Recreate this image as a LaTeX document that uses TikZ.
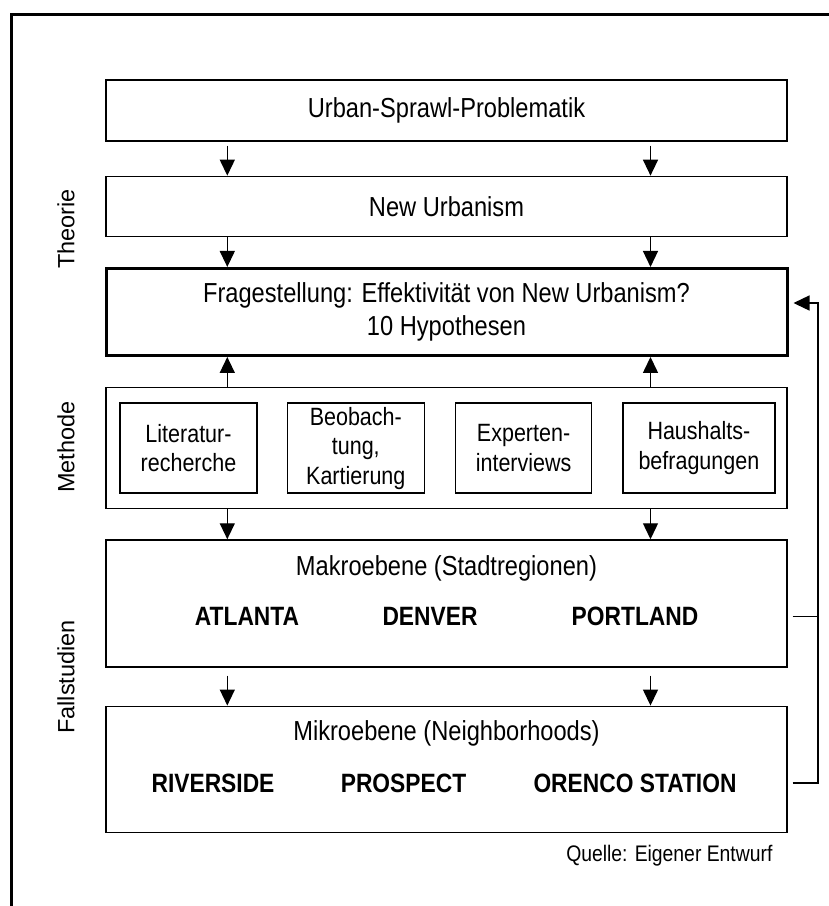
\documentclass[tikz,border=0pt]{standalone}
\usepackage{fontspec}
\setmainfont{Liberation Sans}
\newfontfamily\narrowfont[FakeStretch=0.86]{Liberation Sans}
\usepackage{tikz}
\usetikzlibrary{positioning}
\usetikzlibrary{arrows.meta}
\tikzset{
  myarrow/.style={
    draw=black,
    line width=1.4pt,
    -{Triangle[length=16pt,width=15pt]},
  },
  myline/.style={
    draw=black,
    line width=1.4pt,
  },
  myrectangle/.style={
    draw=black,
    shape=rectangle,
    line width=1.3pt,
    align=center,
    inner sep=0pt,
    minimum width=681pt,
    font=\narrowfont\fontsize{27.5}{33}\selectfont
  },
  mythickrectangle/.style={
    myrectangle,
    line width=3pt,
  },
  mythinsquare/.style={
    draw=black,
    shape=rectangle,
    line width=1.3pt,
    align=center,
    inner sep=0pt,
    minimum height=90pt,
    font=\narrowfont\fontsize{25}{29.5}\selectfont
  },
  mytitle/.style={
    inner sep=0pt,
    font=\narrowfont\fontsize{27.5}{33}\selectfont
  },
  mycity/.style={
    inner sep=0pt,
    font=\narrowfont\bfseries\fontsize{26.5}{32}\selectfont
  },
  mylabel/.style={
    rotate=90,
    inner sep=0pt,
    font=\fontsize{23.5}{28}\selectfont
  },
}

\begin{document}
\begin{tikzpicture}[auto, x=1pt, y=-1pt]
    \useasboundingbox (0,0) rectangle (829,906);
    \draw[line width=3pt] (11.5,925) |- (845,14);

    \node[myrectangle, minimum height=61pt] (urban) at (446.5,110.5) {Urban-Sprawl-Problematik};
    \node[myrectangle, minimum height=60pt] (newurb) [below=34pt of urban] {New Urbanism};
    \node[mythickrectangle, minimum height=87pt] (frage) [below=30pt of newurb] {Fragestellung: Effektivit\"at von New Urbanism?\\10 Hypothesen};
    \node[myrectangle, minimum height=121pt] (methode) [below=30pt of frage] {};
    \node[myrectangle, minimum height=127pt] (makro) [below=30pt of methode] {};
    \node[myrectangle, minimum height=126pt] (mikro) [below=38pt of makro] {};

    \node[mythinsquare, minimum width=137pt] (literatur) [right=14pt of methode.west] {Literatur-\\recherche};
    \node[mythinsquare, minimum width=137pt] (beobachtung) [right=29pt of literatur] {Beobach-\\tung,\\Kartierung};
    \node[mythinsquare, minimum width=136pt] (experten) [right=30pt of beobachtung] {Experten-\\interviews};
    \node[mythinsquare, minimum width=152pt] (haushalte) [right=30pt of experten] {Haushalts-\\befragungen};

    \node[mytitle] (makrotitle) at ([yshift=-29pt]makro.north) {Makroebene (Stadtregionen)};
    \node[mycity] (atlanta) at ([shift={(-199.5pt,-77pt)}]makro.north) {ATLANTA};
    \node[mycity] (denver) at ([shift={(-16.5pt,-77pt)}]makro.north) {DENVER};
    \node[mycity] (portland) at ([shift={(188.5pt,-77pt)}]makro.north) {PORTLAND};

    \node[mytitle] (mikrotitle) at ([yshift=-27.5pt]mikro.north) {Mikroebene (Neighborhoods)};
    \node[mycity] (riverside) at ([shift={(-233.5pt,-77.5pt)}]mikro.north) {RIVERSIDE};
    \node[mycity] (prospect) at ([shift={(-43pt,-77.5pt)}]mikro.north) {PROSPECT};
    \node[mycity] (orenco) at ([shift={(188.5pt,-77.5pt)}]mikro.north) {ORENCO STATION};

    \node[mytitle, anchor=east, font=\narrowfont\fontsize{22.5}{27}\selectfont] (quelle) at ([shift={(-15pt,-23pt)}]mikro.south east) {Quelle: Eigener Entwurf};

    \node[mylabel] (theorie) at (66,229) {Theorie};
    \node[mylabel] (methodelabel) at (66,447) {Methode};
    \node[mylabel] (fallstudien) at (66,677) {Fallstudien};

    \coordinate (colL) at (227.3,0);
    \coordinate (colR) at (650.5,0);
    \coordinate (feedback) at (818,303);

    \draw[myarrow, shorten <=4pt] (urban.south -| colL) -- (newurb.north -| colL);
    \draw[myarrow, shorten <=4pt] (urban.south -| colR) -- (newurb.north -| colR);
    \draw[myarrow] (newurb.south -| colL) -- (frage.north -| colL);
    \draw[myarrow] (newurb.south -| colR) -- (frage.north -| colR);
    \draw[myarrow] (methode.north -| colL) -- (frage.south -| colL);
    \draw[myarrow] (methode.north -| colR) -- (frage.south -| colR);
    \draw[myarrow] (methode.south -| colL) -- (makro.north -| colL);
    \draw[myarrow] (methode.south -| colR) -- (makro.north -| colR);
    \draw[myarrow, shorten <=8pt] (makro.south -| colL) -- (mikro.north -| colL);
    \draw[myarrow, shorten <=8pt] (makro.south -| colR) -- (mikro.north -| colR);

    \draw[myline, shorten <=5pt] (makro.east |- portland) -| (feedback);
    \draw[myarrow, shorten <=5pt, shorten >=5pt] (mikro.east |- orenco) -| (feedback) -- (frage.east |- feedback);
\end{tikzpicture}
\end{document}
